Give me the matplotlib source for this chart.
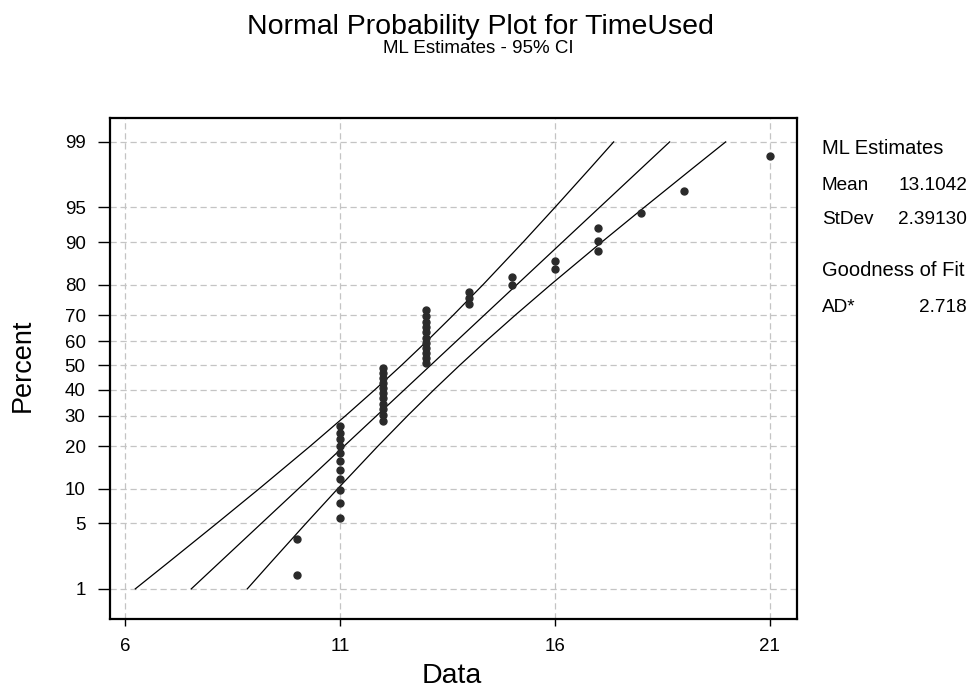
from statistics import NormalDist

import matplotlib.pyplot as plt
import numpy as np

plt.rcParams["font.family"] = ["Liberation Sans", "DejaVu Sans"]

# observed TimeUsed values and how many times each occurs
values = [10, 11, 12, 13, 14, 15, 16, 17, 18, 19, 21]
counts = [2, 11, 11, 11, 3, 2, 2, 3, 1, 1, 1]

mean_est = 13.1042
stdev_est = 2.39130
ad_stat = 2.718

pct_ticks = [1, 5, 10, 20, 30, 40, 50, 60, 70, 80, 90, 95, 99]
x_ticks = [6, 11, 16, 21]

nd = NormalDist()


def z_of(p):
    return np.array([nd.inv_cdf(v) for v in np.atleast_1d(p)])


def main():
    data = np.repeat(values, counts)
    n = len(data)
    ranks = np.arange(1, n + 1)
    # Benard median ranks
    pos = (ranks - 0.3) / (n + 0.4)
    z_pts = z_of(pos)

    # fitted line and 95% CI from the ML estimates
    band_pct = np.array([1, 2, 5, 10, 20, 30, 40, 50, 60, 70, 80, 90, 95, 98, 99]) / 100
    zb = z_of(band_pct)
    fit = mean_est + zb * stdev_est
    se = stdev_est * np.sqrt(1 / n + zb ** 2 / (2 * n))
    lo = fit - 1.96 * se
    hi = fit + 1.96 * se

    fig = plt.figure(figsize=(9.74, 6.89), dpi=100)
    ax = fig.add_axes([0.1129, 0.1016, 0.7054, 0.7271])

    grid_kw = dict(color="#c4c4c4", linestyle=(0, (5, 3)), linewidth=0.9, zorder=0)
    for xv in x_ticks:
        ax.axvline(xv, **grid_kw)
    for pv in pct_ticks:
        ax.axhline(z_of(pv / 100)[0], **grid_kw)

    for line in (hi, fit, lo):
        ax.plot(line, zb, color="black", linewidth=0.9, zorder=2)

    ax.plot(data, z_pts, "o", color="#2a2a2a", markersize=5, zorder=3)

    ax.set_xlim(5.65, 21.63)
    ax.set_ylim(-2.64, 2.575)
    ax.set_xticks(x_ticks)
    ax.set_xticklabels([str(v) for v in x_ticks])
    ax.set_yticks(z_of(np.array(pct_ticks) / 100))
    ax.set_yticklabels([str(v) for v in pct_ticks])
    ax.tick_params(axis="both", direction="out", width=1.0,
                   labelsize=13.5, pad=9, top=False, right=False)
    ax.tick_params(axis="y", length=8.5)
    ax.tick_params(axis="x", length=5)
    for spine in ax.spines.values():
        spine.set_linewidth(1.6)

    fig.text(0.464, 0.019, "Data", fontsize=20.5, ha="center", va="center")
    fig.text(0.023, 0.47, "Percent", fontsize=19.5, ha="center", va="center",
             rotation=90)

    fig.text(0.493, 0.961, "Normal Probability Plot for TimeUsed",
             ha="center", va="center", fontsize=20.5)
    fig.text(0.491, 0.929, "ML Estimates - 95% CI",
             ha="center", va="center", fontsize=13.5)

    tx = 0.8439
    rx = 0.993
    head = 14.5
    row = 13.7
    fig.text(tx, 1 - 148 / 689, "ML Estimates", fontsize=head, va="center")
    fig.text(tx, 1 - 185 / 689, "Mean", fontsize=row, va="center")
    fig.text(rx, 1 - 185 / 689, f"{mean_est:.4f}", fontsize=row, va="center", ha="right")
    fig.text(tx, 1 - 220 / 689, "StDev", fontsize=row, va="center")
    fig.text(rx, 1 - 220 / 689, f"{stdev_est:.5f}", fontsize=row, va="center", ha="right")
    fig.text(tx, 1 - 271 / 689, "Goodness of Fit", fontsize=head, va="center")
    fig.text(tx, 1 - 308 / 689, "AD*", fontsize=row, va="center")
    fig.text(rx, 1 - 308 / 689, f"{ad_stat:.3f}", fontsize=row, va="center", ha="right")

    fig.savefig("out.png", dpi=100)
    plt.close(fig)


if __name__ == "__main__":
    main()
